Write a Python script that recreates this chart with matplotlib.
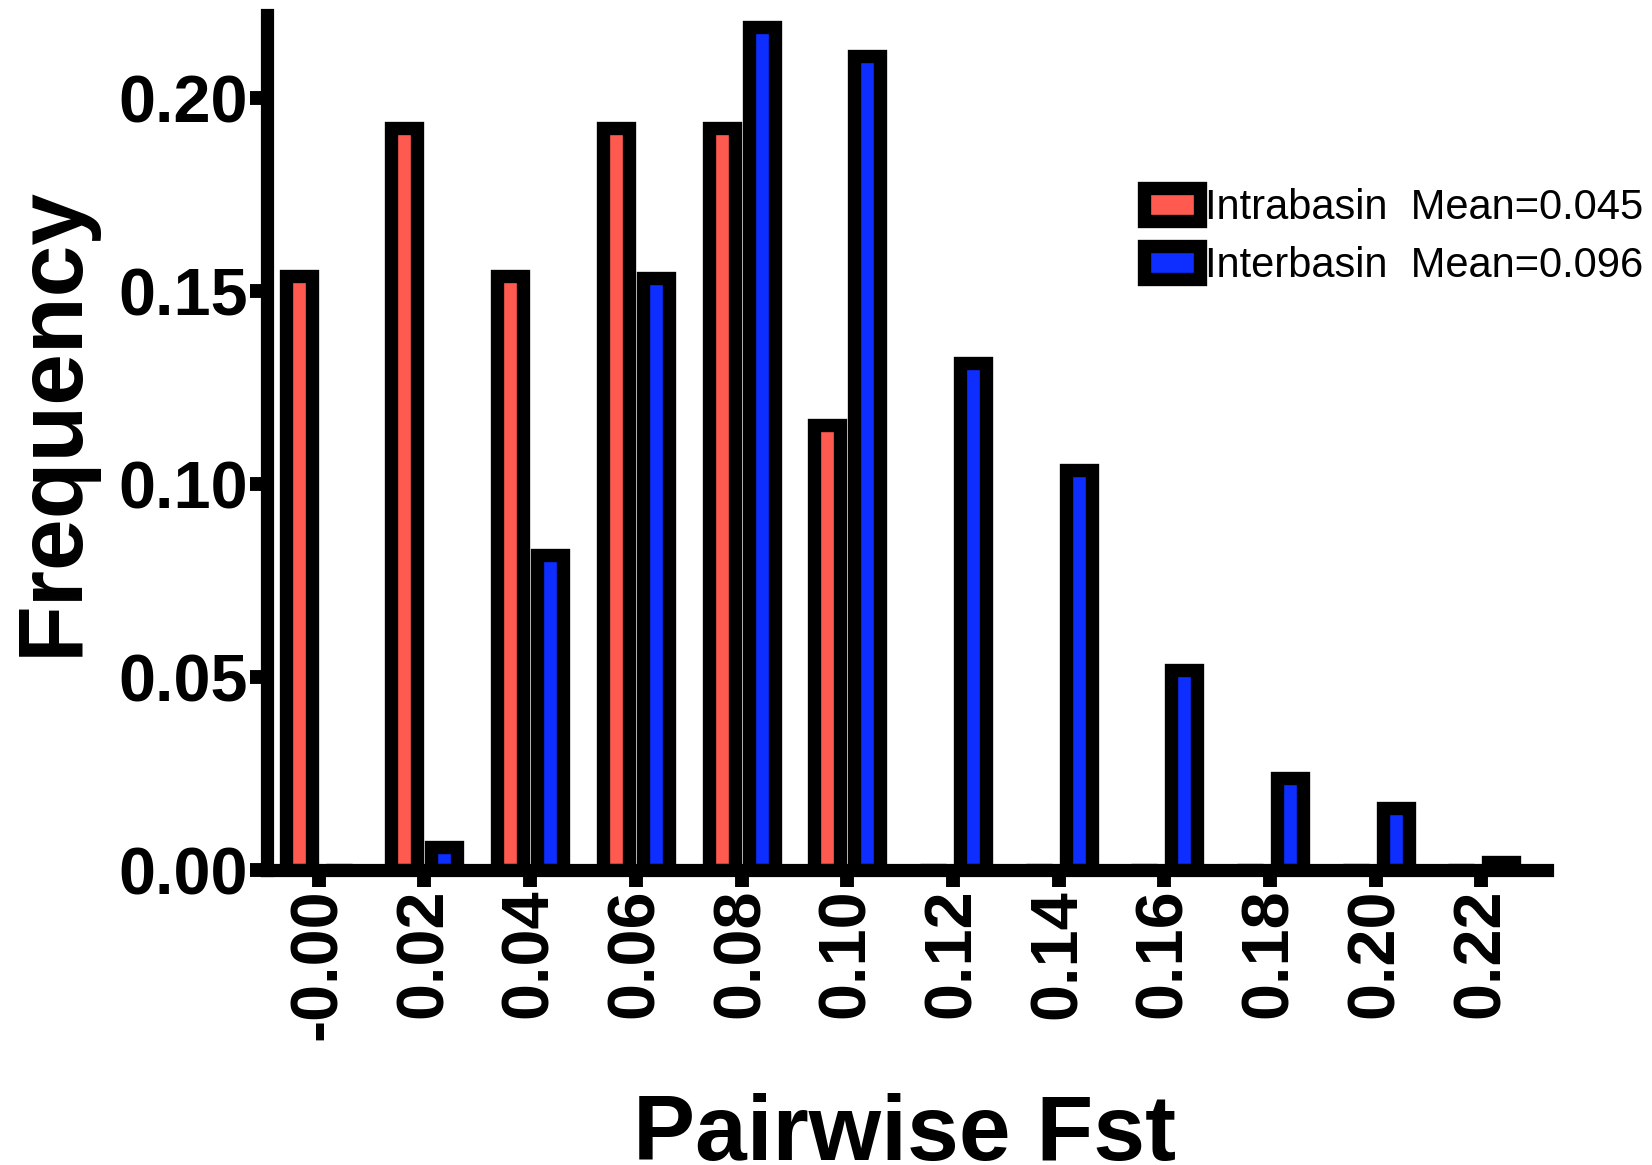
import matplotlib
matplotlib.use("Agg")
import matplotlib.pyplot as plt
import numpy as np

# bins of pairwise Fst (x tick labels)
categories = ["-0.00", "0.02", "0.04", "0.06", "0.08", "0.10",
              "0.12", "0.14", "0.16", "0.18", "0.20", "0.22"]
intrabasin = [0.1538, 0.1923, 0.1538, 0.1923, 0.1923, 0.1154,
              0, 0, 0, 0, 0, 0]
interbasin = [0.0, 0.006, 0.0816, 0.1533, 0.2185, 0.2109,
              0.1313, 0.1036, 0.0518, 0.0239, 0.016, 0.002]
series_labels = ["Intrabasin  Mean=0.045", "Interbasin  Mean=0.096"]
yticks = [0.0, 0.05, 0.10, 0.15, 0.20]
ytick_labels = ["0.00", "0.05", "0.10", "0.15", "0.20"]

plt.rcParams['font.family'] = ['Liberation Sans', 'DejaVu Sans']

fig = plt.figure(figsize=(16.52, 11.65), dpi=100)
ax = fig.add_axes([0.1616, 0.2532, 0.7748, 0.7339])

x = np.arange(len(categories))
w = 0.246
off = 0.189
ax.bar(x - off, intrabasin, w, color='#FF5A50', edgecolor='black',
       linewidth=9.6, label=series_labels[0])
ax.bar(x + off, interbasin, w, color='#0D2EFF', edgecolor='black',
       linewidth=9.6, label=series_labels[1])

ax.set_xlim(-0.49, 11.62)
ax.set_ylim(0, 0.2215)

for s in ['top', 'right']:
    ax.spines[s].set_visible(False)
for s in ['left', 'bottom']:
    ax.spines[s].set_linewidth(9.5)

ax.set_xticks(x)
ax.set_xticklabels(categories, rotation=90, fontsize=48, fontweight='bold')
ax.set_yticks(yticks)
ax.set_yticklabels(ytick_labels, fontsize=48, fontweight='bold')
ax.tick_params(axis='both', direction='out', length=12.5, width=10)
ax.tick_params(axis='y', pad=1.5)
ax.tick_params(axis='x', pad=1)

ax.set_ylabel('Frequency', fontsize=67, fontweight='bold')
ax.yaxis.set_label_coords(-0.1336, 0.5246)
ax.set_xlabel('Pairwise Fst', fontsize=67, fontweight='bold')
ax.xaxis.set_label_coords(0.498, -0.2605)

ax.legend(loc='upper left', bbox_to_anchor=(0.6923, 0.8386),
          bbox_transform=fig.transFigure, frameon=False, fontsize=30,
          handlelength=1.36, handleheight=0.857, handletextpad=0.1,
          labelspacing=0.43, borderpad=0, borderaxespad=0)

fig.savefig('out.png', dpi=100)
